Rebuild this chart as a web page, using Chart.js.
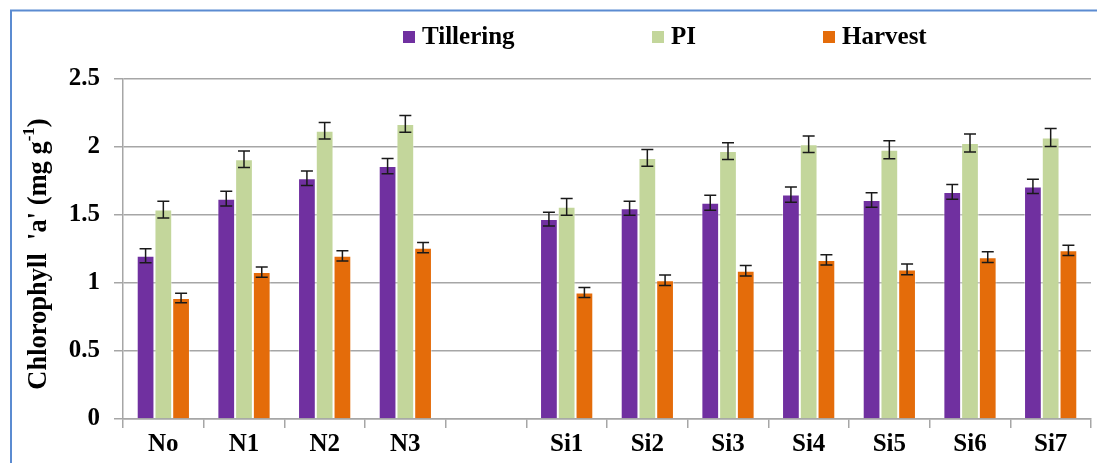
<!DOCTYPE html>
<html>
<head>
<meta charset="utf-8">
<script src="https://cdn.jsdelivr.net/npm/chart.js@4.4.0/dist/chart.umd.min.js"></script>
<style>
  html, body { margin: 0; padding: 0; background: #ffffff; overflow: hidden; }
  #wrap { position: relative; width: 1097px; height: 463px; }
  canvas { display: block; }
</style>
</head>
<body>
<div id="wrap"><canvas id="c" width="1097" height="463"></canvas></div>
<script>
// ---- Data ----
const categories = ['No', 'N1', 'N2', 'N3', '', 'Si1', 'Si2', 'Si3', 'Si4', 'Si5', 'Si6', 'Si7'];
const seriesNames = ['Tillering', 'PI', 'Harvest'];
const tillering    = [1.20, 1.62, 1.77, 1.86, null, 1.47, 1.55, 1.59, 1.65, 1.61, 1.67, 1.71];
const tilleringErr = [0.052, 0.054, 0.053, 0.056, null, 0.051, 0.051, 0.055, 0.056, 0.053, 0.054, 0.052];
const pi           = [1.54, 1.91, 2.12, 2.17, null, 1.56, 1.92, 1.97, 2.02, 1.98, 2.03, 2.07];
const piErr        = [0.062, 0.06, 0.061, 0.062, null, 0.061, 0.061, 0.061, 0.061, 0.066, 0.066, 0.066];
const harvest      = [0.89, 1.08, 1.20, 1.26, null, 0.93, 1.02, 1.09, 1.17, 1.10, 1.19, 1.24];
const harvestErr   = [0.035, 0.037, 0.038, 0.038, null, 0.037, 0.038, 0.038, 0.037, 0.039, 0.039, 0.038];
const yTickValues  = [0, 0.5, 1, 1.5, 2, 2.5];
const yTitle = { main: "Chlorophyll  'a' (mg g", sup: '-1', end: ')' };

const colors = ['#7030A0', '#C3D69B', '#E46C0A'];
const serif = "'Liberation Serif', 'Times New Roman', serif";

const errorBarPlugin = {
  id: 'errorBars',
  afterDatasetsDraw(chart) {
    const ctx = chart.ctx;
    const y = chart.scales.y;
    chart.data.datasets.forEach((ds, i) => {
      const meta = chart.getDatasetMeta(i);
      meta.data.forEach((bar, j) => {
        const v = ds.data[j];
        const e = ds.errors[j];
        if (v == null || e == null) return;
        const top = y.getPixelForValue(v + e);
        const bot = y.getPixelForValue(v - e);
        const x = bar.x;
        ctx.save();
        ctx.strokeStyle = '#1a1a1a';
        ctx.lineWidth = 1.5;
        ctx.beginPath();
        ctx.moveTo(x, top); ctx.lineTo(x, bot);
        ctx.moveTo(x - 6, top); ctx.lineTo(x + 6, top);
        ctx.moveTo(x - 6, bot); ctx.lineTo(x + 6, bot);
        ctx.stroke();
        ctx.restore();
      });
    });
  }
};

const decorPlugin = {
  id: 'decor',
  afterDraw(chart) {
    const ctx = chart.ctx;
    ctx.save();
    // outer frame (only left and top edges fall inside the picture)
    ctx.strokeStyle = '#5B8BD1';
    ctx.lineWidth = 2;
    ctx.beginPath();
    ctx.moveTo(11, 463); ctx.lineTo(11, 10.5); ctx.lineTo(1097, 10.5);
    ctx.stroke();

    // legend
    ctx.font = 'bold 25px ' + serif;
    ctx.textBaseline = 'middle';
    ctx.textAlign = 'left';
    const legendX = [403, 652, 823];
    chart.data.datasets.forEach((ds, i) => {
      const x0 = legendX[i];
      ctx.fillStyle = ds.backgroundColor;
      ctx.fillRect(x0, 31, 12, 12);
      ctx.fillStyle = '#000';
      ctx.fillText(ds.label, x0 + 19, 38);
    });

    // y-axis title with superscript
    ctx.translate(38, 254);
    ctx.rotate(-Math.PI / 2);
    const mainFont = 'bold 26.5px ' + serif;
    const supFont = 'bold 17px ' + serif;
    ctx.font = mainFont;
    const w1 = ctx.measureText(yTitle.main).width;
    const w3 = ctx.measureText(yTitle.end).width;
    ctx.font = supFont;
    const w2 = ctx.measureText(yTitle.sup).width;
    let x = -(w1 + w2 + w3) / 2;
    ctx.fillStyle = '#000';
    ctx.textBaseline = 'alphabetic';
    ctx.font = mainFont;
    ctx.fillText(yTitle.main, x, 8);
    x += w1;
    ctx.font = supFont;
    ctx.fillText(yTitle.sup, x, -4);
    x += w2;
    ctx.font = mainFont;
    ctx.fillText(yTitle.end, x, 8);
    ctx.restore();
  }
};

new Chart(document.getElementById('c'), {
  type: 'bar',
  data: {
    labels: categories,
    datasets: [
      { label: seriesNames[0], data: tillering, errors: tilleringErr, backgroundColor: colors[0] },
      { label: seriesNames[1], data: pi, errors: piErr, backgroundColor: colors[1] },
      { label: seriesNames[2], data: harvest, errors: harvestErr, backgroundColor: colors[2] }
    ].map(d => Object.assign(d, {
      borderColor: 'rgba(255,255,255,0.45)',
      borderWidth: 1,
      categoryPercentage: 0.66,
      barPercentage: 1.0
    }))
  },
  options: {
    responsive: false,
    animation: false,
    layout: { padding: { top: 79, right: 6, left: 0, bottom: 0 } },
    plugins: { legend: { display: false }, tooltip: { enabled: false } },
    scales: {
      x: {
        grid: { display: true, drawOnChartArea: false, color: '#A6A6A6', lineWidth: 1.5, tickLength: 9, offset: true },
        border: { color: '#A6A6A6', width: 1.5 },
        ticks: { color: '#000', font: { family: serif, size: 25, weight: 'bold' }, padding: 2, maxRotation: 0, autoSkip: false },
        afterFit: s => { s.height = 44; }
      },
      y: {
        min: 0, max: 2.5,
        afterBuildTicks: s => { s.ticks = yTickValues.map(v => ({ value: v })); },
        grid: { color: '#A6A6A6', lineWidth: 1.5, tickLength: 9 },
        border: { color: '#A6A6A6', width: 1.5 },
        ticks: { color: '#000', font: { family: serif, size: 25, weight: 'bold' }, padding: 14,
                 callback: v => String(v) },
        afterFit: s => { s.width = 123; }
      }
    }
  },
  plugins: [errorBarPlugin, decorPlugin]
});
</script>
</body>
</html>
